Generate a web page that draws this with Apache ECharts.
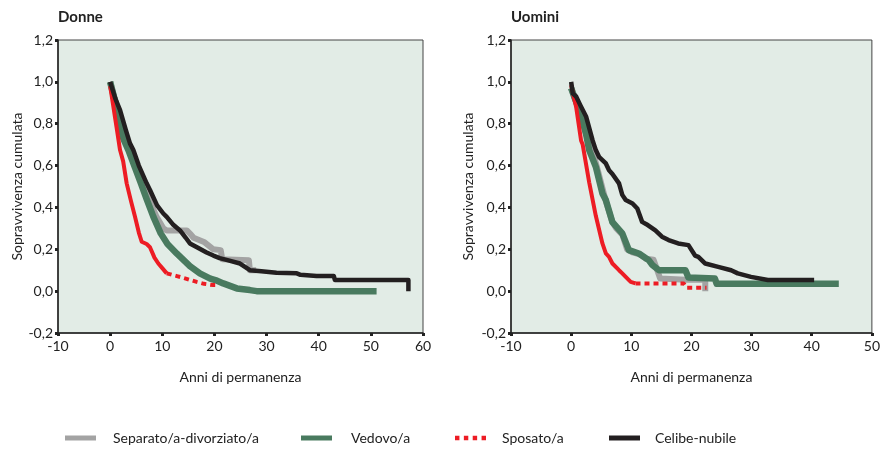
<!DOCTYPE html>
<html>
<head>
<meta charset="utf-8">
<script src="https://cdn.jsdelivr.net/npm/echarts@6/dist/echarts.min.js"></script>
<style>
  html, body { margin: 0; padding: 0; background: #fff; }
  #chart { width: 883px; height: 450px; }
</style>
</head>
<body>
<div id="chart"></div>
<script>
// curve di sopravvivenza: [anni, sopravvivenza]
const yTickLabels = ['-0,2', '0,0', '0,2', '0,4', '0,6', '0,8', '1,0', '1,2']

// Donne
const donneSeparato = [[0, 1.0], [1, 0.91], [2.5, 0.76], [4, 0.66], [5.5, 0.57], [7.3, 0.45], [8.9, 0.355], [10.2, 0.30], [10.85, 0.29], [14.7, 0.29], [15.5, 0.27], [16, 0.255], [18, 0.235], [19.8, 0.2], [21.2, 0.196], [21.5, 0.152], [26.6, 0.148], [26.8, 0.10], [28, 0.10]]
const donneVedovo = [[0, 1.0], [1, 0.9], [2.5, 0.73], [3.5, 0.674], [5.9, 0.515], [7.0, 0.44], [8.3, 0.355], [9.7, 0.276], [11, 0.225], [12.76, 0.18], [15.3, 0.12], [17.2, 0.085], [19.2, 0.06], [20.5, 0.05], [21.7, 0.037], [24.3, 0.013], [26.8, 0.005], [28.1, 0.0], [51.1, 0.0]]
const donneSposatoA = [[0, 0.98], [0.5, 0.9], [1.25, 0.78], [1.9, 0.674], [2.5, 0.62], [3.17, 0.515], [4, 0.43], [4.77, 0.355], [5.5, 0.28], [6.05, 0.236], [7, 0.225], [7.64, 0.21], [8.5, 0.16], [9.24, 0.132], [10, 0.11], [10.85, 0.085]]
const donneSposatoB = [[10.85, 0.085], [12.8, 0.072], [14.5, 0.06], [16.6, 0.044], [18, 0.035], [19.8, 0.029], [20.2, 0.029]]
const donneCelibe = [[0, 1.0], [0.5, 0.96], [1, 0.92], [1.9, 0.865], [3, 0.77], [3.8, 0.706], [4.45, 0.674], [5.5, 0.6], [7.0, 0.515], [7.64, 0.483], [9, 0.41], [10.2, 0.371], [10.85, 0.355], [12, 0.32], [13.4, 0.29], [14.5, 0.255], [15.3, 0.228], [17, 0.205], [18.5, 0.185], [19.8, 0.17], [21, 0.158], [22.5, 0.148], [24.9, 0.132], [26.8, 0.10], [29, 0.095], [31.9, 0.088], [35.8, 0.085], [36.5, 0.078], [39.6, 0.072], [42.9, 0.072], [43.1, 0.053], [57.2, 0.053], [57.2, 0.0]]

// Uomini
const uominiSeparato = [[0, 0.97], [1.37, 0.86], [2.47, 0.75], [3.3, 0.69], [3.8, 0.645], [4.5, 0.57], [5.77, 0.43], [6.86, 0.33], [7.5, 0.30], [8.5, 0.27], [9.3, 0.2], [10.2, 0.185], [11.5, 0.175], [12.4, 0.155], [13.7, 0.15], [14.8, 0.06], [19, 0.055], [22.3, 0.055], [22.3, 0.0]]
const uominiVedovo = [[0, 0.97], [0.5, 0.93], [1.37, 0.865], [2.47, 0.753], [3.0, 0.674], [4.1, 0.594], [5.2, 0.467], [5.77, 0.435], [6.86, 0.33], [8.5, 0.276], [9.6, 0.196], [10.2, 0.19], [11.26, 0.18], [12.9, 0.148], [13.5, 0.125], [14.6, 0.10], [19, 0.10], [19.5, 0.065], [23.9, 0.06], [24.2, 0.035], [44.5, 0.035]]
const uominiSposatoA = [[0, 0.985], [0.83, 0.88], [1.65, 0.72], [1.92, 0.70], [3.0, 0.52], [4.1, 0.36], [5.2, 0.228], [5.77, 0.18], [6.3, 0.164], [6.86, 0.132], [7.96, 0.1], [8.5, 0.085], [9.07, 0.068], [9.9, 0.044], [10.7, 0.037]]
const uominiSposatoB = [[10.7, 0.037], [18.7, 0.037], [19.2, 0.016], [22.5, 0.016]]
const uominiCelibe = [[0, 1.0], [0.27, 0.945], [0.83, 0.93], [1.5, 0.89], [2.5, 0.833], [3.57, 0.72], [4.1, 0.674], [4.67, 0.64], [5.77, 0.61], [6.3, 0.578], [6.86, 0.56], [7.96, 0.515], [8.5, 0.46], [9.07, 0.435], [10.2, 0.419], [11, 0.395], [11.8, 0.331], [12.5, 0.32], [14, 0.29], [15.1, 0.26], [16.2, 0.244], [17.8, 0.228], [19.5, 0.22], [20.6, 0.17], [21.15, 0.164], [22.3, 0.132], [24.45, 0.116], [26.6, 0.10], [27.7, 0.085], [29.9, 0.068], [32.7, 0.053], [40.4, 0.053]]

const nomi = ['Separato/a-divorziato/a', 'Vedovo/a', 'Sposato/a', 'Celibe-nubile']
const colori = ['#a3a3a3', '#497a5f', '#ed1c24', '#231f20']

const font = 'Lato, "Open Sans", sans-serif'
const chart = echarts.init(document.getElementById('chart'))

function xAxis(idx, max) {
  return {
    gridIndex: idx,
    type: 'value',
    min: -10,
    max: max,
    interval: 10,
    name: 'Anni di permanenza',
    nameLocation: 'middle',
    nameGap: 37,
    nameTextStyle: { color: '#222', fontSize: 14, fontFamily: font },
    axisLine: { onZero: false, lineStyle: { color: '#222', width: 1.5 } },
    axisTick: { length: 3, lineStyle: { color: '#222', width: 3 } },
    axisLabel: { color: '#222', fontSize: 14, fontFamily: font, margin: 6 },
    splitLine: { show: false }
  }
}

function yAxis(idx, gap) {
  return {
    gridIndex: idx,
    type: 'value',
    min: -0.2,
    max: 1.2,
    interval: 0.2,
    name: 'Sopravvivenza cumulata',
    nameLocation: 'middle',
    nameGap: gap,
    nameTextStyle: { color: '#222', fontSize: 14, fontFamily: font },
    axisLine: { onZero: false, lineStyle: { color: '#222', width: 1.5 } },
    axisTick: { length: 3, lineStyle: { color: '#222', width: 3 } },
    axisLabel: {
      color: '#222',
      fontSize: 14,
      fontFamily: font,
      margin: 5,
      formatter: v => yTickLabels[Math.round((v + 0.2) / 0.2)]
    },
    splitLine: { show: false }
  }
}

function curva(nome, dati, idx, colore, width, type) {
  return {
    name: nome,
    type: 'line',
    xAxisIndex: idx,
    yAxisIndex: idx,
    data: dati,
    symbol: 'none',
    silent: true,
    lineStyle: { color: colore, width: width, type: type || 'solid', cap: 'butt', join: 'round' },
    itemStyle: { color: colore }
  }
}

function legenda(i, left, pad, icon) {
  return {
    left: left,
    top: 431,
    padding: 0,
    itemWidth: 31,
    itemHeight: 5,
    selectedMode: false,
    textStyle: { color: '#222', fontSize: 14, fontFamily: font, padding: [0, 0, 0, pad] },
    data: [{ name: nomi[i], icon: icon, itemStyle: { color: colori[i] } }]
  }
}

chart.setOption({
  animation: false,
  title: [
    { text: 'Donne', left: 53, top: 5, textStyle: { fontSize: 15, fontWeight: 'bold', color: '#222', fontFamily: font } },
    { text: 'Uomini', left: 506, top: 5, textStyle: { fontSize: 15, fontWeight: 'bold', color: '#222', fontFamily: font } }
  ],
  grid: [
    { left: 58, top: 40, width: 365, height: 293, show: true, backgroundColor: '#e2ece6', borderColor: '#444', borderWidth: 1 },
    { left: 511, top: 40, width: 364, height: 293, show: true, backgroundColor: '#e2ece6', borderColor: '#444', borderWidth: 1 }
  ],
  xAxis: [xAxis(0, 60), xAxis(1, 50)],
  yAxis: [yAxis(0, 34), yAxis(1, 36)],
  legend: [
    legenda(0, 65, 12, 'rect'),
    legenda(1, 301, 14, 'rect'),
    legenda(2, 455, 11, 'path://M0,0h4v4h-4z M8,0h4v4h-4z M16,0h4v4h-4z M24,0h4v4h-4z'),
    legenda(3, 609, 10, 'rect')
  ],
  series: [
    curva(nomi[0], donneSeparato, 0, colori[0], 6),
    curva(nomi[1], donneVedovo, 0, colori[1], 6.5),
    curva(nomi[2], donneSposatoA, 0, colori[2], 4),
    curva(nomi[2], donneSposatoB, 0, colori[2], 4, [5, 4]),
    curva(nomi[3], donneCelibe, 0, colori[3], 4.5),
    curva(nomi[0], uominiSeparato, 1, colori[0], 6),
    curva(nomi[1], uominiVedovo, 1, colori[1], 6.5),
    curva(nomi[2], uominiSposatoA, 1, colori[2], 4),
    curva(nomi[2], uominiSposatoB, 1, colori[2], 4, [5, 4]),
    curva(nomi[3], uominiCelibe, 1, colori[3], 4.5)
  ]
})
</script>
</body>
</html>
